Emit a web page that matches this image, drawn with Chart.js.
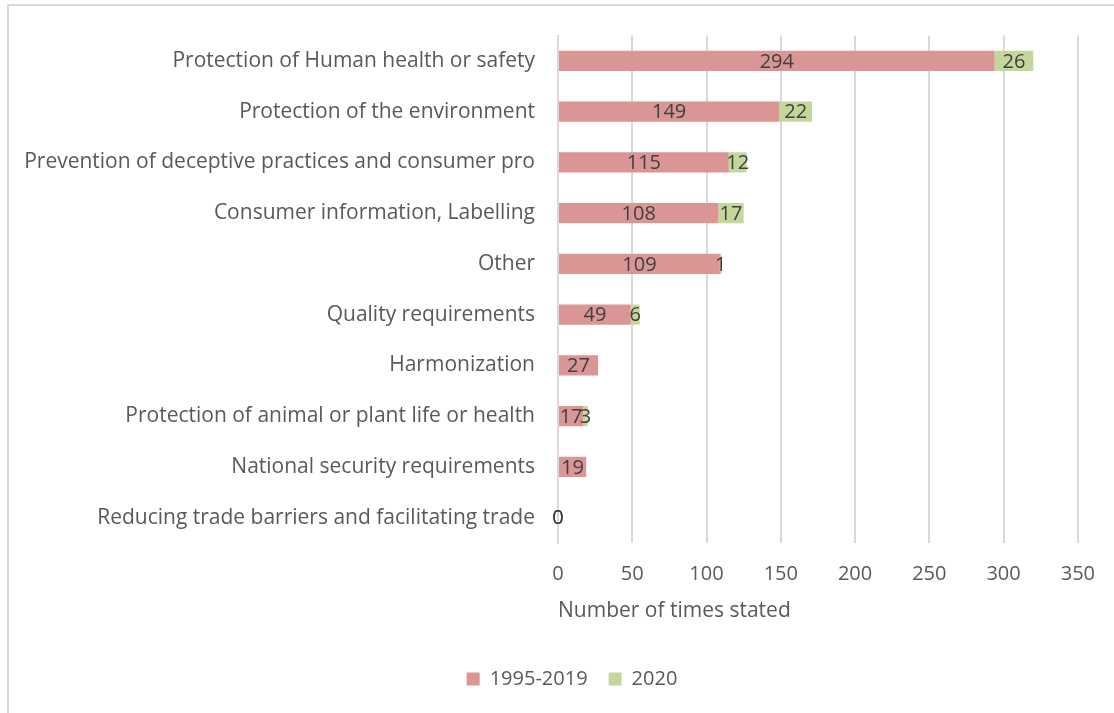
<!DOCTYPE html>
<html>
<head>
<meta charset="utf-8">
<script src="https://cdn.jsdelivr.net/npm/chart.js@4"></script>
<style>
  html, body { margin: 0; padding: 0; background: #fff; overflow: hidden; }
  #frame { position: absolute; left: 7px; top: 4px; width: 1200px; height: 800px; border: 2px solid #d9d9d9; }
  #wrap { position: absolute; left: 0; top: 0; width: 1114px; height: 713px; }
</style>
</head>
<body>
<div id="frame"></div>
<div id="wrap"><canvas id="chart"></canvas></div>
<script>
const categories = [
  'Protection of Human health or safety',
  'Protection of the environment',
  'Prevention of deceptive practices and consumer pro',
  'Consumer information, Labelling',
  'Other',
  'Quality requirements',
  'Harmonization',
  'Protection of animal or plant life or health',
  'National security requirements',
  'Reducing trade barriers and facilitating trade'
];
const values1995to2019 = [294, 149, 115, 108, 109, 49, 27, 17, 19, 0];
const values2020 = [26, 22, 12, 17, 1, 6, null, 3, null, 0];
const xTicks = [0, 50, 100, 150, 200, 250, 300, 350];

const FONT = 'Open Sans';

// draws the value in the middle of every bar segment
const barLabels = {
  id: 'barLabels',
  afterDatasetsDraw(chart) {
    const ctx = chart.ctx;
    ctx.save();
    ctx.font = '20px "' + FONT + '"';
    ctx.fillStyle = '#404040';
    ctx.textAlign = 'center';
    ctx.textBaseline = 'middle';
    chart.data.datasets.forEach((ds, i) => {
      const meta = chart.getDatasetMeta(i);
      meta.data.forEach((bar, j) => {
        const v = ds.data[j];
        if (v === null || v === undefined) return;
        ctx.fillText(String(v), (bar.x + bar.base) / 2, bar.y + 1);
      });
    });
    ctx.restore();
  }
};

// the legend sits right of the canvas centre in the original
const legendShift = {
  id: 'legendShift',
  afterLayout(chart) {
    chart.legend.left += 33;
    chart.legend.right += 33;
  }
};

new Chart(document.getElementById('chart'), {
  type: 'bar',
  data: {
    labels: categories,
    datasets: [
      {
        label: '1995-2019',
        data: values1995to2019,
        backgroundColor: '#da9694',
        barPercentage: 0.4,
        categoryPercentage: 1
      },
      {
        label: '2020',
        data: values2020,
        backgroundColor: '#c4d79b',
        barPercentage: 0.4,
        categoryPercentage: 1
      }
    ]
  },
  options: {
    indexAxis: 'y',
    responsive: true,
    maintainAspectRatio: false,
    animation: false,
    layout: { padding: { top: 34, right: 36, bottom: 14, left: 0 } },
    scales: {
      x: {
        stacked: true,
        min: 0,
        max: 350,
        afterBuildTicks(scale) {
          scale.ticks = xTicks.map(v => ({ value: v }));
        },
        afterFit(scale) { scale.height = 105; },
        grid: { color: '#d9d9d9', lineWidth: 2, drawTicks: false },
        border: { display: false },
        ticks: { padding: 19, color: '#595959', font: { family: FONT, size: 20 } },
        title: {
          display: true,
          align: 'start',
          text: 'Number of times stated',
          color: '#595959',
          font: { family: FONT, size: 21 },
          padding: { top: 0, bottom: 24 }
        }
      },
      y: {
        stacked: true,
        afterFit(scale) { scale.width = 558; },
        grid: { display: false, drawTicks: false },
        border: { display: true, color: '#d9d9d9', width: 2 },
        ticks: { padding: 23, color: '#595959', font: { family: FONT, size: 21 } }
      }
    },
    plugins: {
      legend: {
        position: 'bottom',
        labels: {
          boxWidth: 13,
          boxHeight: 13,
          padding: 21,
          color: '#595959',
          font: { family: FONT, size: 20 }
        }
      },
      tooltip: { enabled: false }
    }
  },
  plugins: [barLabels, legendShift]
});
</script>
</body>
</html>
